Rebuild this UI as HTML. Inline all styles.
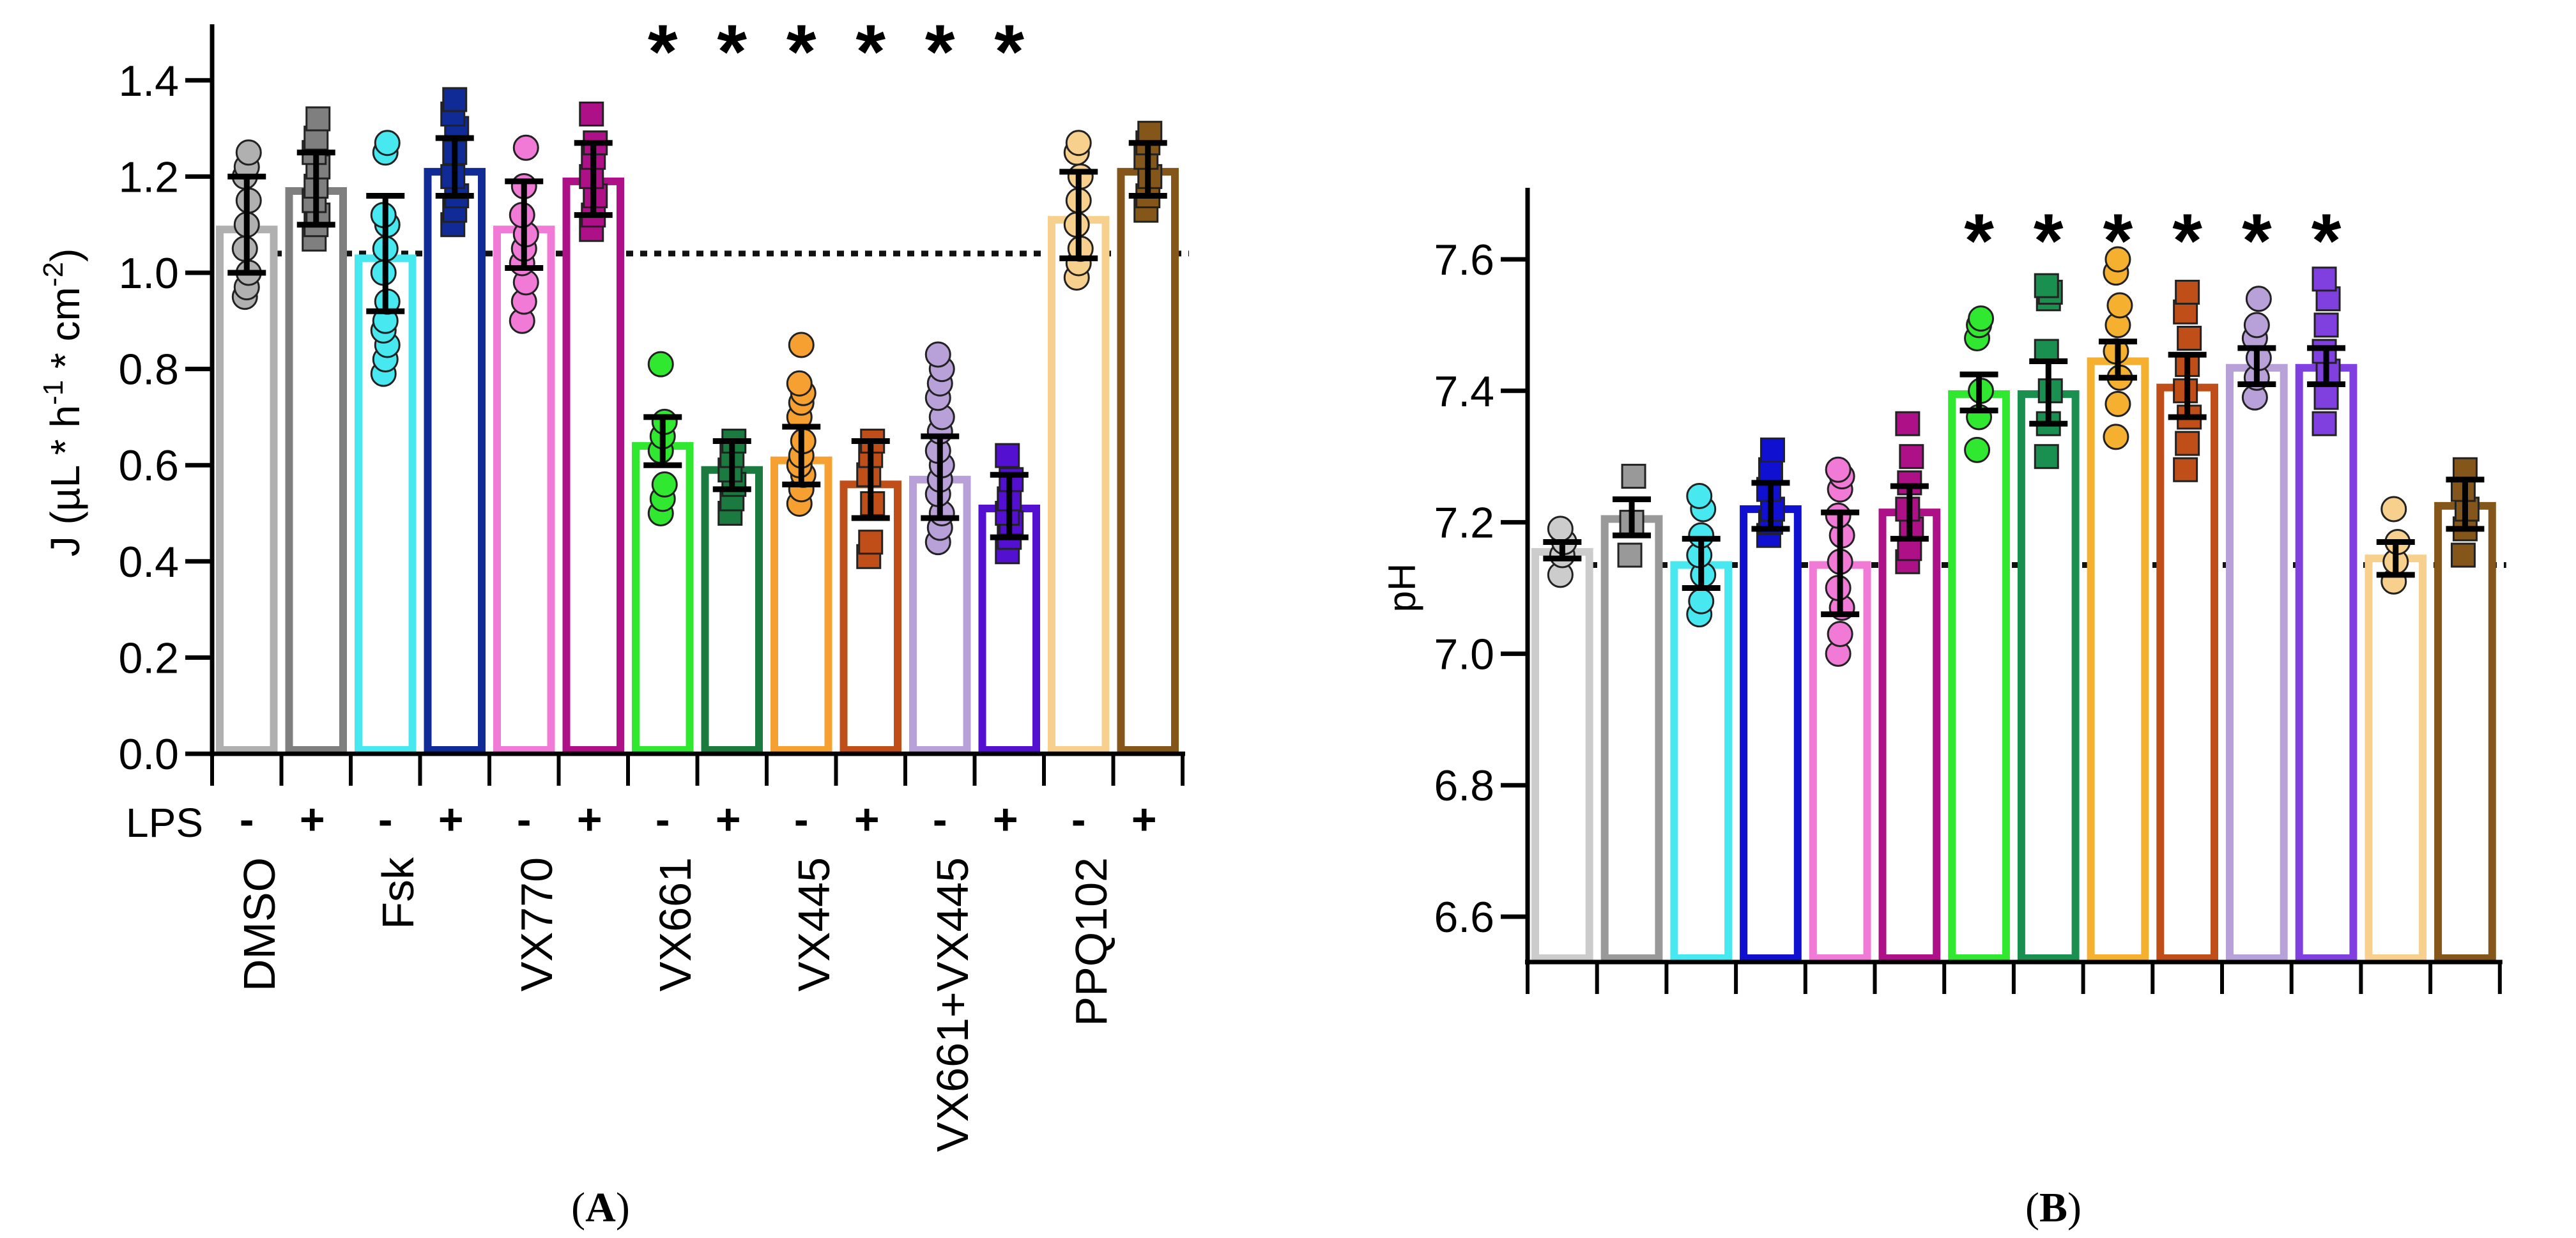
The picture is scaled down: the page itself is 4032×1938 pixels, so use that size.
<!DOCTYPE html>
<html><head><meta charset="utf-8"><style>
html,body{margin:0;padding:0;background:#fff;}
svg{display:block;font-family:"Liberation Sans",Arial,sans-serif;}
</style></head><body>
<svg id="fig" width="4032" height="1938" viewBox="0 0 4032 1938" xmlns="http://www.w3.org/2000/svg">
<g id="panelA"></g>
<g id="panelB"></g>
</svg>
<script>
const colorsA = ["#b0b0b0","#7f7f7f","#48e8f0","#102a96","#f07ad6","#ae1088","#30e830","#1a7a40","#f5a030","#c04e18","#b8a0d8","#5410d0","#f8d08e","#85561a"];
const colorsB = ["#cccccc","#999999","#48e8f0","#1010d0","#f07ad6","#ae1088","#30e830","#1a9050","#f5b030","#c04e18","#b8a0d8","#8040e0","#f8d08e","#85561a"];
const groups = ["DMSO","Fsk","VX770","VX661","VX445","VX661+VX445","PPQ102"];
const lpsLabels = ["-","+"];
const ticksA = [0.0,0.2,0.4,0.6,0.8,1.0,1.2,1.4];
const ticksB = [6.6,6.8,7.0,7.2,7.4,7.6];
const meansA = [1.09,1.17,1.03,1.21,1.09,1.19,0.64,0.59,0.61,0.56,0.57,0.51,1.11,1.21];
const errLoA = [1.00,1.10,0.92,1.16,1.01,1.12,0.60,0.55,0.56,0.49,0.49,0.45,1.03,1.16];
const errHiA = [1.20,1.25,1.16,1.28,1.19,1.27,0.70,0.65,0.68,0.65,0.66,0.58,1.21,1.27];
const pointsA = [
 [0.95,0.97,1.0,1.05,1.1,1.15,1.2,1.22,1.25],
 [1.07,1.1,1.12,1.15,1.18,1.22,1.25,1.28,1.32],
 [0.79,0.82,0.85,0.88,0.9,0.94,1.0,1.05,1.1,1.12,1.25,1.27],
 [1.1,1.13,1.16,1.2,1.25,1.3,1.33,1.36],
 [0.9,0.94,0.98,1.02,1.05,1.08,1.12,1.18,1.26],
 [1.09,1.12,1.16,1.2,1.24,1.27,1.33],
 [0.5,0.53,0.56,0.63,0.66,0.69,0.81],
 [0.5,0.53,0.56,0.59,0.62,0.65],
 [0.52,0.55,0.58,0.6,0.62,0.65,0.7,0.73,0.75,0.77,0.85],
 [0.41,0.44,0.52,0.58,0.62,0.65],
 [0.44,0.47,0.5,0.54,0.57,0.6,0.63,0.67,0.7,0.74,0.77,0.8,0.83],
 [0.42,0.45,0.48,0.5,0.53,0.57,0.62],
 [0.99,1.02,1.05,1.1,1.15,1.2,1.25,1.27],
 [1.13,1.16,1.2,1.24,1.27,1.29]];
const meansB = [7.155,7.205,7.135,7.22,7.135,7.215,7.395,7.395,7.445,7.405,7.435,7.435,7.145,7.225];
const errLoB = [7.145,7.18,7.10,7.19,7.06,7.175,7.37,7.35,7.42,7.36,7.41,7.41,7.12,7.19];
const errHiB = [7.17,7.235,7.175,7.26,7.215,7.255,7.425,7.445,7.475,7.455,7.465,7.465,7.17,7.265];
const pointsB = [
 [7.12,7.15,7.17,7.19],
 [7.15,7.2,7.27],
 [7.06,7.08,7.12,7.15,7.18,7.22,7.24],
 [7.18,7.2,7.22,7.25,7.28,7.31],
 [7.0,7.03,7.07,7.1,7.14,7.18,7.21,7.25,7.27,7.28],
 [7.14,7.16,7.19,7.22,7.26,7.3,7.35],
 [7.31,7.36,7.4,7.48,7.5,7.51],
 [7.30,7.35,7.4,7.46,7.54,7.55,7.56],
 [7.33,7.38,7.42,7.46,7.5,7.53,7.58,7.6],
 [7.28,7.32,7.36,7.4,7.44,7.48,7.52,7.55],
 [7.39,7.42,7.45,7.48,7.5,7.54],
 [7.35,7.39,7.43,7.46,7.5,7.54,7.57],
 [7.11,7.14,7.17,7.22],
 [7.15,7.19,7.22,7.25,7.28]];
const refA = 1.04, refB = 7.135;
const sigBars = [6,7,8,9,10,11];

const NS="http://www.w3.org/2000/svg";
function mk(parent,tag,attrs,text){const e=document.createElementNS(NS,tag);for(const k in attrs)e.setAttribute(k,attrs[k]);if(text!==undefined)e.textContent=text;parent.appendChild(e);return e;}

function drawPanel(g,cfg){
  const {x0,slot,yAt,yMin,yTop,ticks,means,lo,hi,pts,colors,ref,astY}=cfg;
  const base=yAt(yMin);
  const n=means.length;
  const xEnd=x0+slot*n;
  const rl=mk(g,'line',{x1:x0+10,x2:xEnd+10,y1:yAt(ref),y2:yAt(ref),stroke:'#111','stroke-width':9,'stroke-dasharray':'11 11'});
  
  
  for(let i=0;i<n;i++){
    const bx=x0+slot*i+12, bw=slot-24, cx=x0+slot*(i+0.5);
    const top=yAt(means[i]);
    const bar=mk(g,'rect',{x:bx,y:top,width:bw,height:base-top-6,fill:'#fff',stroke:colors[i],'stroke-width':12});
    
    
    const sq=i%2===1;
    pts[i].forEach((v,j)=>{
      const jx=cx+((j%3)-1)*3;
      let m;
      if(sq){m=mk(g,'rect',{x:jx-18,y:yAt(v)-18,width:36,height:36,fill:colors[i],stroke:'#222','stroke-width':3});}
      else{m=mk(g,'circle',{cx:jx,cy:yAt(v),r:19,fill:colors[i],stroke:'#222','stroke-width':3});}
      
      
    });
    const eb=mk(g,'g',{stroke:'#000','stroke-width':9});
    
    
    mk(eb,'line',{x1:cx,x2:cx,y1:yAt(hi[i]),y2:yAt(lo[i])});
    mk(eb,'line',{x1:cx-30,x2:cx+30,y1:yAt(hi[i]),y2:yAt(hi[i])});
    mk(eb,'line',{x1:cx-30,x2:cx+30,y1:yAt(lo[i]),y2:yAt(lo[i])});
  }
  const ya=mk(g,'line',{x1:x0,x2:x0,y1:yTop,y2:base+4,stroke:'#000','stroke-width':7});
  
  
  const xa=mk(g,'line',{x1:x0-4,x2:xEnd+4,y1:base,y2:base,stroke:'#000','stroke-width':7});
  
  
  for(let i=0;i<=n;i++){
    const t=mk(g,'line',{x1:x0+slot*i,x2:x0+slot*i,y1:base,y2:base+50,stroke:'#000','stroke-width':6});
    
    
  }
  ticks.forEach(v=>{
    const y=yAt(v);
    const t=mk(g,'line',{x1:x0-42,x2:x0,y1:y,y2:y,stroke:'#000','stroke-width':7});
    
    
    const l=mk(g,'text',{x:x0-52,y:y+24,'text-anchor':'end','font-size':68},v.toFixed(1));
    
    
  });
  sigBars.forEach(i=>{
    const a=mk(g,'text',{x:x0+slot*(i+0.5),y:astY,'text-anchor':'middle','font-size':120,'font-weight':'bold'},'*');
    
    
  });
}

const gA=document.getElementById('panelA');
drawPanel(gA,{x0:332,slot:108.5,yAt:v=>1180-v*753,yMin:0,yTop:38,ticks:ticksA,means:meansA,lo:errLoA,hi:errHiA,pts:pointsA,colors:colorsA,ref:refA,astY:122});
const gB=document.getElementById('panelB');
drawPanel(gB,{x0:2391,slot:108.7,yAt:v=>406-(v-7.6)*1029,yMin:6.531,yTop:294,ticks:ticksB,means:meansB,lo:errLoB,hi:errHiB,pts:pointsB,colors:colorsB,ref:refB,astY:418});

const lps=mk(gA,'text',{x:318,y:1310,'text-anchor':'end','font-size':64},'LPS');


for(let k=0;k<groups.length;k++){
  for(let s=0;s<2;s++){
    const t=mk(gA,'text',{x:332+108.5*(2*k+s+0.5)+(s?-6:0),y:1306,'text-anchor':'middle','font-size':68,'font-weight':'bold'},lpsLabels[s]);
    
    
  }
  const gx=332+217*k+98;
  const gl=mk(gA,'text',{x:0,y:0,'text-anchor':'end','font-size':70,transform:`translate(${gx},1342) rotate(-90)`},groups[k]);
  
  
}
const yl=mk(gA,'text',{x:0,y:0,'text-anchor':'middle','font-size':64,transform:'translate(124,630) rotate(-90)'});


yl.innerHTML='J (µL * h<tspan dy="-26" font-size="44">-1</tspan><tspan dy="26"> * cm</tspan><tspan dy="-26" font-size="44">-2</tspan><tspan dy="26">)</tspan>';
const pa=mk(gA,'text',{x:940,y:1912,'text-anchor':'middle','font-size':66,'font-family':'Liberation Serif, serif'});


pa.innerHTML='(<tspan font-weight="bold">A</tspan>)';
const ph=mk(gB,'text',{x:0,y:0,'text-anchor':'middle','font-size':60,transform:'translate(2215,920) rotate(-90)'},'pH');


const pb=mk(gB,'text',{x:3214,y:1912,'text-anchor':'middle','font-size':66,'font-family':'Liberation Serif, serif'});


pb.innerHTML='(<tspan font-weight="bold">B</tspan>)';
</script>
</body></html>
